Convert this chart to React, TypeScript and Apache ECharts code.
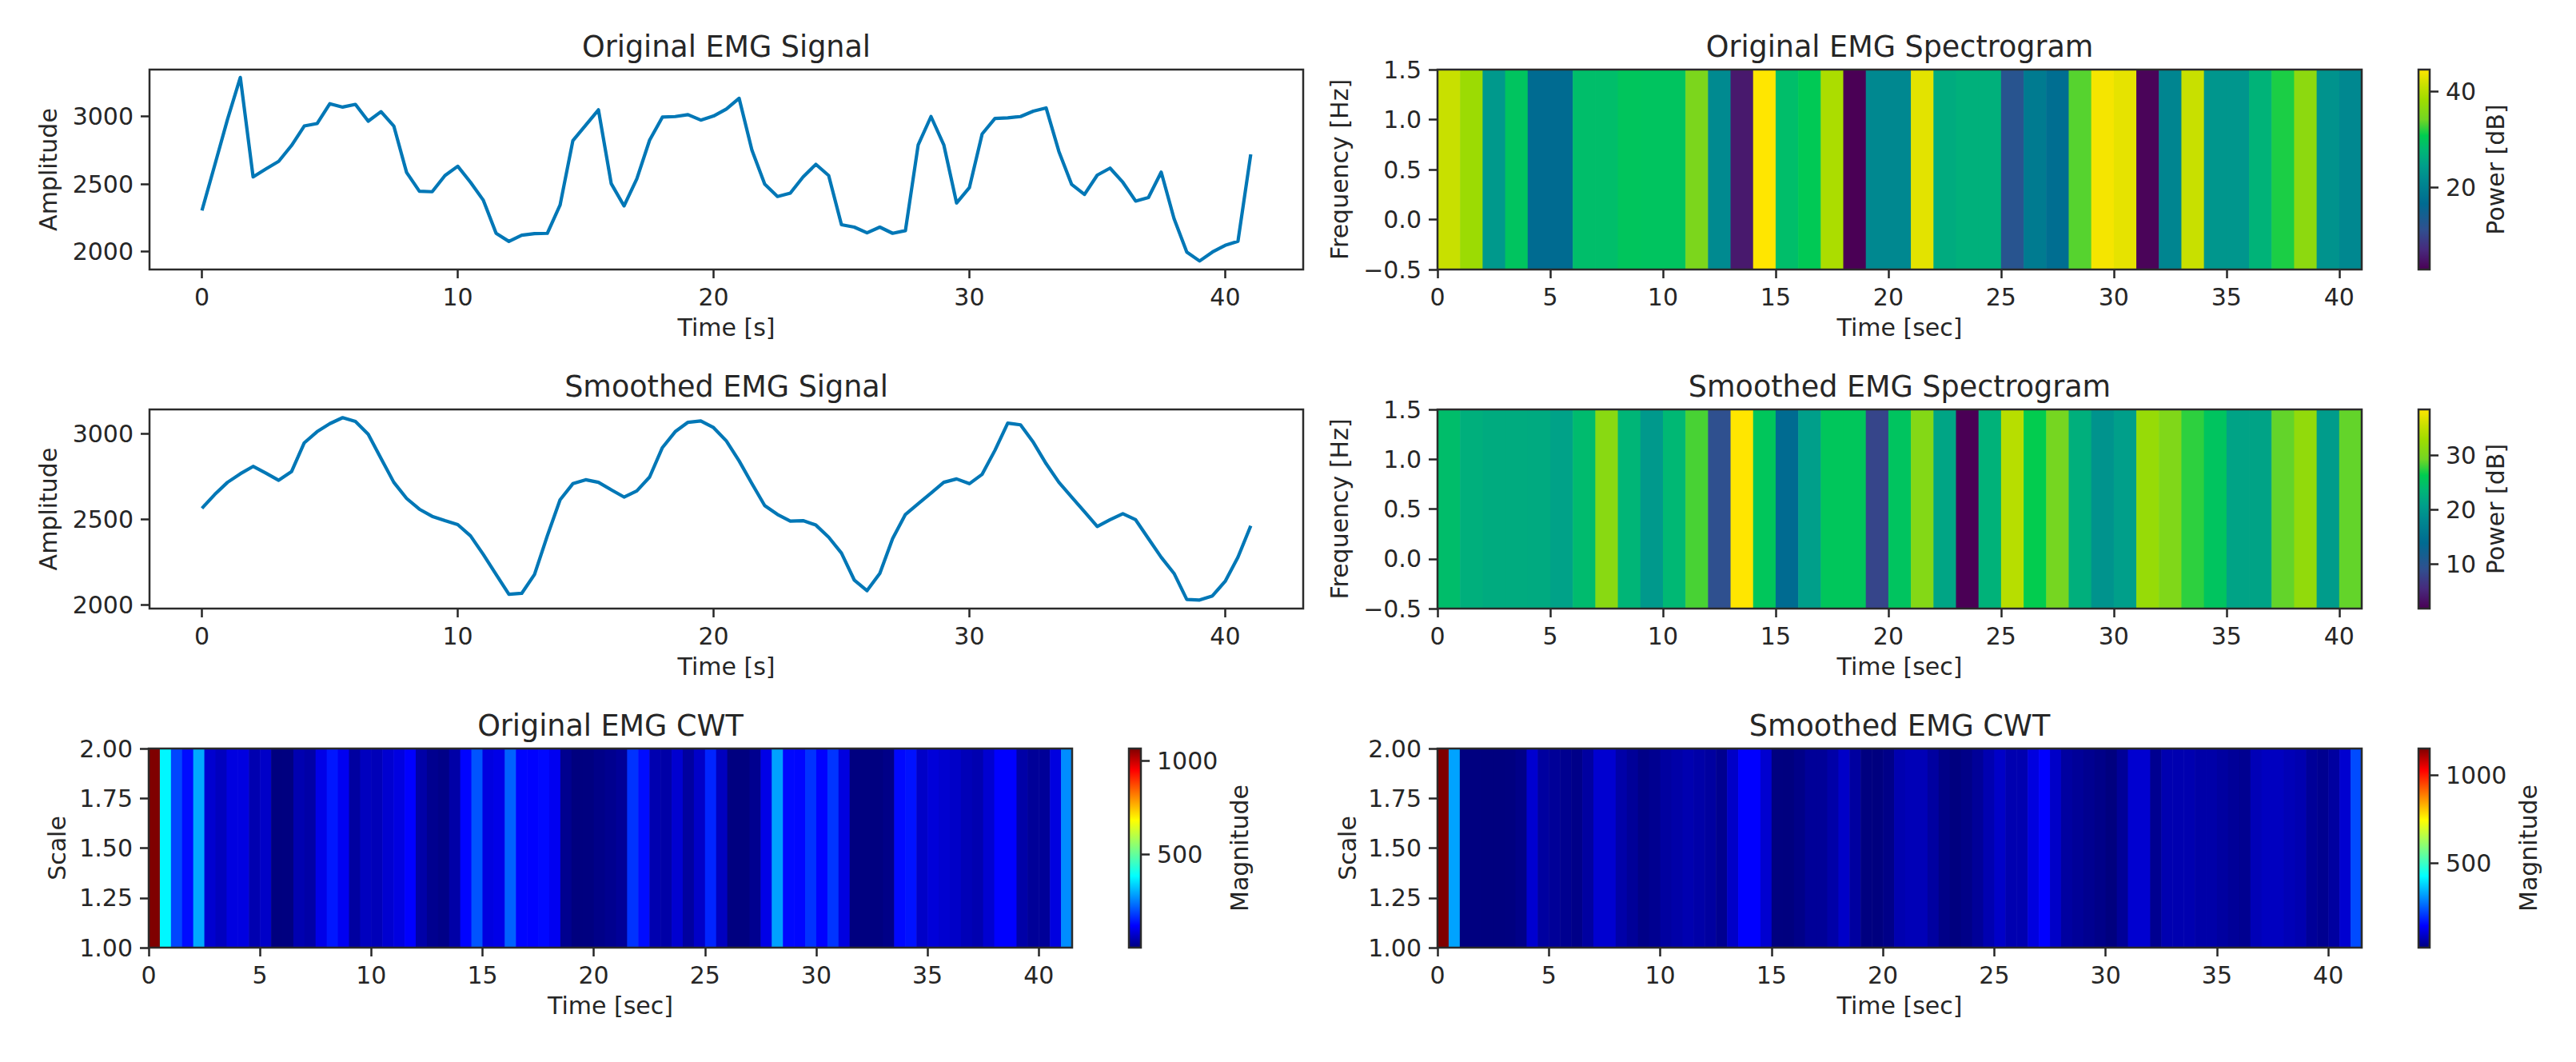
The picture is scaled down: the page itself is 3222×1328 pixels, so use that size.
import React, { useEffect, useRef } from "react";
import * as echarts from "echarts";

const originalSignal = [2304,2640,2980,3290,2553,2612,2668,2785,2930,2948,3095,3070,3090,2966,3036,2930,2586,2447,2443,2563,2632,2513,2380,2135,2075,2121,2133,2135,2344,2821,2936,3050,2503,2338,2539,2825,2996,3000,3014,2974,3004,3056,3135,2751,2499,2408,2433,2553,2646,2563,2199,2181,2139,2181,2135,2155,2791,3000,2791,2360,2473,2871,2986,2990,3000,3040,3064,2741,2497,2423,2566,2618,2513,2374,2400,2588,2245,1996,1930,1996,2046,2076,2720];
const smoothedSignal = [2564,2645,2716,2766,2809,2770,2728,2778,2947,3012,3059,3094,3072,2997,2856,2716,2622,2559,2517,2492,2469,2403,2294,2177,2062,2067,2177,2403,2614,2708,2731,2716,2672,2630,2666,2747,2919,3012,3067,3075,3036,2958,2841,2708,2580,2528,2489,2492,2466,2395,2302,2145,2083,2184,2387,2528,2591,2653,2716,2736,2708,2763,2903,3062,3052,2950,2825,2716,2630,2544,2458,2497,2533,2497,2387,2278,2184,2031,2028,2052,2137,2278,2462];
const originalSpec = [41.2,37.9,23.8,29.6,16.7,16.7,28.7,28.7,29.8,29.6,29.6,35,21.7,5.5,44.5,28.7,30.4,39.1,3,21.3,21.3,42.8,26.2,26.9,26.9,12.1,19.2,17.1,33.3,43.9,43,3.4,20.8,41.2,23.3,23.3,27.3,31.6,36.6,22.9,21.3];
const smoothedSpec = [24.5,22.7,22.3,22.3,22.2,21.2,24.2,31.1,23.4,20.2,23.8,28.2,9.2,38.4,25.6,13.9,20.9,25.6,25.6,8.1,25.3,30.7,21.6,1.9,23.1,34.4,26.4,29.6,22.7,19.4,20.9,32.2,30.4,27.5,25.3,21.4,21.4,28.9,31.8,20.5,28.9];
const originalCwt = [1066,375,190,130,295,74,59,89,89,45,67,0,1,45,37,96,140,104,30,59,52,74,89,117,37,15,8,37,120,205,89,96,220,120,118,125,104,15,0,1,8,15,23,170,130,45,37,74,30,67,155,59,1,1,15,95,285,125,122,170,118,172,89,1,1,1,8,125,135,67,82,74,67,52,45,74,117,117,37,23,23,89,265];
const smoothedCwt = [1153,324,18,18,17,17,18,26,96,49,41,34,26,49,96,96,57,41,26,34,49,57,65,57,49,34,88,142,142,96,18,17,26,41,41,57,88,49,18,17,26,65,72,72,49,26,17,26,41,65,88,65,65,111,142,88,49,41,34,26,17,41,96,96,34,65,65,65,57,57,49,41,34,72,80,80,72,65,41,34,49,96,225];

const timeTicks10 = [0, 10, 20, 30, 40];
const timeTicks5 = [0, 5, 10, 15, 20, 25, 30, 35, 40];
const ampTicks = [2000, 2500, 3000];
const freqTicks = [-0.5, 0, 0.5, 1, 1.5];
const scaleTicks = [1, 1.25, 1.5, 1.75, 2];

const viridisStops: [number, string][] = [[0,"#4a0055"],[0.1,"#472a7d"],[0.2,"#2f508f"],[0.33,"#006b91"],[0.45,"#008a90"],[0.52,"#009f8a"],[0.6,"#00b874"],[0.67,"#00cc50"],[0.75,"#72d524"],[0.85,"#a0dc00"],[0.92,"#c8e000"],[1,"#ffe600"]];
const jetStops: [number, string][] = [[0,"#00007f"],[0.11,"#0000ff"],[0.36,"#00ffff"],[0.5,"#7fff7f"],[0.64,"#ffff00"],[0.89,"#ff0000"],[1,"#7f0000"]];

const FONT = "DejaVu Sans";
const INK = "#262626";
const TICK_SIZE = 30;
const LINE_COLOR = "#0077b6";

function hex(c: string) { return [1, 3, 5].map((i) => parseInt(c.slice(i, i + 2), 16)); }
function sample(stops: [number, string][], t: number) {
  const v = Math.min(1, Math.max(0, t));
  for (let i = 1; i < stops.length; i++) {
    if (v <= stops[i][0]) {
      const f = (v - stops[i - 1][0]) / (stops[i][0] - stops[i - 1][0]);
      const a = hex(stops[i - 1][1]), b = hex(stops[i][1]);
      return `rgb(${a.map((x, k) => Math.round(x + (b[k] - x) * f)).join(",")})`;
    }
  }
  return stops[stops.length - 1][1];
}

type Box = { l: number; t: number; w: number; h: number };

const fmt = (d: number) => (v: number) => v.toFixed(d).replace("-", "\u2212");

function axisBase(name: string, gap: number, ticks: number[], min: number, max: number, labelFmt: any, margin: number, extra: any = {}) {
  return {
    type: "value", min, max, name, nameLocation: "middle", nameGap: gap,
    nameTextStyle: { fontFamily: FONT, fontSize: TICK_SIZE, color: INK },
    splitLine: { show: false },
    axisLine: { show: false, onZero: false },
    axisTick: { show: true, length: 11, inside: false, customValues: ticks, lineStyle: { color: INK, width: 2.5 } },
    axisLabel: { show: true, customValues: ticks, margin, formatter: labelFmt, fontFamily: FONT, fontSize: TICK_SIZE, color: INK, hideOverlap: false, showMinLabel: true, showMaxLabel: true },
    ...extra,
  };
}

function App() {
  const ref = useRef<HTMLDivElement>(null);
  useEffect(() => {
    const chart = echarts.init(ref.current!, undefined, { renderer: "svg" });
    const grids: any[] = [], xAxes: any[] = [], yAxes: any[] = [], series: any[] = [], titles: any[] = [], frames: any[] = [];

    const addGrid = (b: Box) => {
      grids.push({ left: b.l, top: b.t, width: b.w, height: b.h, containLabel: false });
      frames.push({ type: "rect", shape: { x: b.l, y: b.t, width: b.w, height: b.h }, style: { fill: "none", stroke: "#2b2b2b", lineWidth: 2.5 }, z: 100 });
      return grids.length - 1;
    };
    const addTitle = (text: string, b: Box, top: number) => {
      titles.push({ text, left: b.l + b.w / 2, top, textAlign: "center", padding: 0, textStyle: { fontFamily: FONT, fontSize: 36.5, fontWeight: "normal", color: INK } });
    };

    const addLine = (title: string, values: number[], b: Box, yMin: number, yMax: number, titleTop: number) => {
      const i = addGrid(b);
      addTitle(title, b, titleTop);
      xAxes.push({ gridIndex: i, ...axisBase("Time [s]", 57, timeTicks10, -2.05, 43.05, (v: number) => String(v), 19) });
      yAxes.push({ gridIndex: i, ...axisBase("Amplitude", 112, ampTicks, yMin, yMax, (v: number) => String(v), 20) });
      series.push({ type: "line", xAxisIndex: i, yAxisIndex: i, showSymbol: false, symbol: "none", smooth: false, silent: true, lineStyle: { color: LINE_COLOR, width: 4.2, join: "round" }, data: values.map((v, k) => [k * 0.5, v]) });
    };

    const addMap = (o: { title: string; values: number[]; step: number; box: Box; xMax: number; yName: string; yGap: number; yTicks: number[]; yRange: [number, number]; yDigits: number; stops: [number, string][]; vMin: number; vMax: number; cbar: Box; cbarTicks: number[]; cbarName: string; cbarGap: number; titleTop: number }) => {
      const i = addGrid(o.box);
      addTitle(o.title, o.box, o.titleTop);
      xAxes.push({ gridIndex: i, ...axisBase("Time [sec]", 57, timeTicks5, 0, o.xMax, (v: number) => String(v), 19) });
      yAxes.push({ gridIndex: i, ...axisBase(o.yName, o.yGap, o.yTicks, o.yRange[0], o.yRange[1], fmt(o.yDigits), 20) });
      series.push({
        type: "custom", xAxisIndex: i, yAxisIndex: i, silent: true, clip: true, encode: { x: [0, 1] },
        data: o.values.map((v, k) => [k * o.step, (k + 1) * o.step, v]),
        renderItem: (params: any, api: any) => {
          const x0 = api.coord([api.value(0), o.yRange[0]])[0];
          const x1 = api.coord([api.value(1), o.yRange[0]])[0];
          const cs = params.coordSys;
          return { type: "rect", shape: { x: x0, y: cs.y, width: x1 - x0 + 0.6, height: cs.height }, style: { fill: sample(o.stops, (api.value(2) - o.vMin) / (o.vMax - o.vMin)) } };
        },
      });
      const c = addGrid(o.cbar);
      xAxes.push({ gridIndex: c, type: "value", show: false, min: 0, max: 1 });
      yAxes.push({ gridIndex: c, position: "right", ...axisBase(o.cbarName, o.cbarGap, o.cbarTicks, o.vMin, o.vMax, (v: number) => String(v), 20, { nameRotate: 90 }) });
      series.push({
        type: "custom", xAxisIndex: c, yAxisIndex: c, silent: true, encode: { y: [0, 1] },
        data: [[o.vMin, o.vMax]],
        renderItem: (params: any) => {
          const cs = params.coordSys;
          return { type: "rect", shape: { x: cs.x, y: cs.y, width: cs.width, height: cs.height }, style: { fill: new echarts.graphic.LinearGradient(0, 1, 0, 0, o.stops.map(([offset, color]) => ({ offset, color }))) } };
        },
      });
    };

    addLine("Original EMG Signal", originalSignal, { l: 187, t: 87, w: 1443, h: 250 }, 1867, 3348, 40);
    addLine("Smoothed EMG Signal", smoothedSignal, { l: 187, t: 512, w: 1443, h: 249 }, 1978, 3142, 465);

    addMap({ title: "Original EMG Spectrogram", values: originalSpec, step: 1, box: { l: 1798, t: 87, w: 1156, h: 250 }, xMax: 41, yName: "Frequency [Hz]", yGap: 108, yTicks: freqTicks, yRange: [-0.5, 1.5], yDigits: 1, stops: viridisStops, vMin: 3, vMax: 44.5, cbar: { l: 3025, t: 87, w: 14, h: 250 }, cbarTicks: [20, 40], cbarName: "Power [dB]", cbarGap: 67, titleTop: 40 });
    addMap({ title: "Smoothed EMG Spectrogram", values: smoothedSpec, step: 1, box: { l: 1798, t: 512, w: 1156, h: 249 }, xMax: 41, yName: "Frequency [Hz]", yGap: 108, yTicks: freqTicks, yRange: [-0.5, 1.5], yDigits: 1, stops: viridisStops, vMin: 1.9, vMax: 38.4, cbar: { l: 3025, t: 512, w: 14, h: 249 }, cbarTicks: [10, 20, 30], cbarName: "Power [dB]", cbarGap: 67, titleTop: 465 });
    addMap({ title: "Original EMG CWT", values: originalCwt, step: 0.5, box: { l: 186, t: 936, w: 1155, h: 249 }, xMax: 41.5, yName: "Scale", yGap: 100, yTicks: scaleTicks, yRange: [1, 2], yDigits: 2, stops: jetStops, vMin: 0, vMax: 1066, cbar: { l: 1412, t: 936, w: 15, h: 249 }, cbarTicks: [500, 1000], cbarName: "Magnitude", cbarGap: 108, titleTop: 889 });
    addMap({ title: "Smoothed EMG CWT", values: smoothedCwt, step: 0.5, box: { l: 1798, t: 936, w: 1156, h: 249 }, xMax: 41.5, yName: "Scale", yGap: 98, yTicks: scaleTicks, yRange: [1, 2], yDigits: 2, stops: jetStops, vMin: 17, vMax: 1153, cbar: { l: 3025, t: 936, w: 14, h: 249 }, cbarTicks: [500, 1000], cbarName: "Magnitude", cbarGap: 108, titleTop: 889 });

    chart.setOption({
      animation: false,
      backgroundColor: "#ffffff",
      title: titles,
      grid: grids,
      xAxis: xAxes,
      yAxis: yAxes,
      series,
      graphic: { elements: frames },
    });
    return () => chart.dispose();
  }, []);
  return <div ref={ref} style={{ position: "fixed", left: 0, top: 0, width: 3222, height: 1328, background: "#fff" }} />;
}

export default App;
